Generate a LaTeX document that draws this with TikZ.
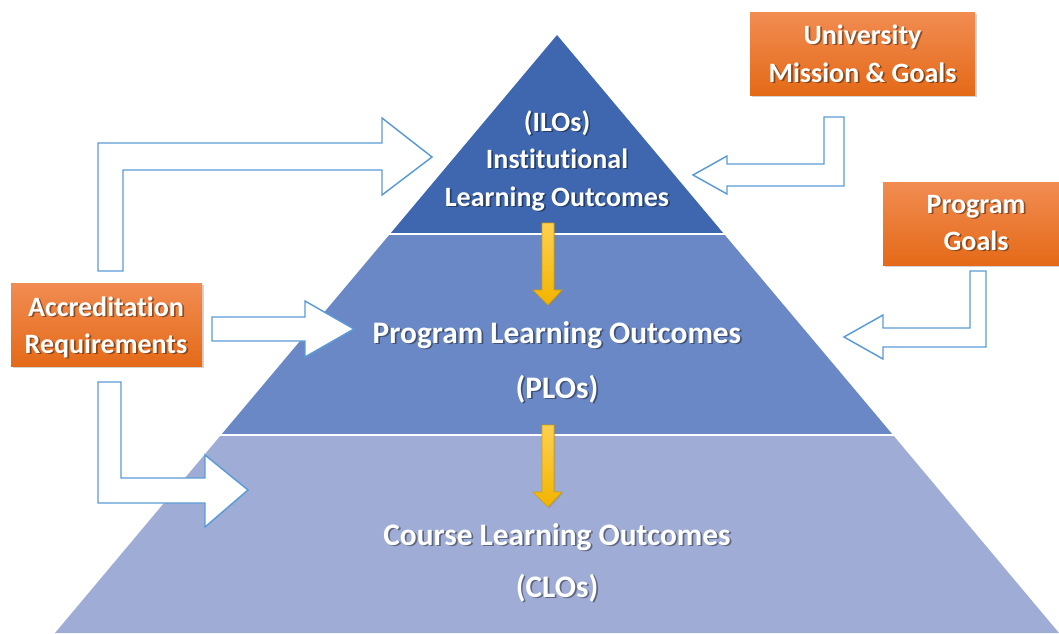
\documentclass[tikz,border=0pt]{standalone}
\usepackage{fontspec}
\setmainfont{Carlito}[Ligatures=NoCommon]
\usetikzlibrary{shadows,calc}
\definecolor{tierA}{RGB}{62,103,176}
\definecolor{tierB}{RGB}{106,136,198}
\definecolor{tierC}{RGB}{159,173,214}
\definecolor{orTop}{RGB}{241,140,82}
\definecolor{orBot}{RGB}{228,106,24}
\definecolor{arrBlue}{RGB}{91,155,213}
\definecolor{ylTop}{RGB}{255,208,80}
\definecolor{ylBot}{RGB}{242,180,0}
\definecolor{ylEdge}{RGB}{212,158,0}
\tikzset{
  sepline/.style={draw=white, line width=1.5pt},
  obox/.style={rectangle, inner sep=0pt, top color=orTop, bottom color=orBot, draw=none,
    drop shadow={shadow xshift=1.5pt, shadow yshift=-1.5pt, opacity=0.35}},
  barrow/.style={draw=arrBlue, fill=white, line width=1.1pt, line join=miter},
  yarrow/.style={top color=ylTop, bottom color=ylBot, draw=ylEdge, line width=0.5pt,
    drop shadow={shadow xshift=1pt, shadow yshift=-1pt, opacity=0.3}},
  lbl/.style={anchor=base, text=white, inner sep=0pt, font=\bfseries\fontsize{21}{25}\selectfont},
  lblL/.style={lbl, font=\bfseries\fontsize{23.5}{28}\selectfont},
}
\newcommand\shlabel[4]{%
  \node[#1, text=black, opacity=0.4] at ([xshift=1.3pt,yshift=-1.3pt]#3) {#4};
  \node[#1] (#2) at (#3) {#4};}
\begin{document}
\begin{tikzpicture}[x=0.75pt, y=-0.75pt]
\useasboundingbox (0,0) rectangle (1059,633);
% pyramid tiers
\fill[tierC] (221,435) -- (893,435) -- (1059,633) -- (55,633) -- cycle;
\fill[tierB] (390,234) -- (724,234) -- (893,435) -- (221,435) -- cycle;
\fill[tierA] (557,35) -- (724,234) -- (390,234) -- cycle;
\draw[sepline] (388,234) -- (726,234);
\draw[sepline] (219,435) -- (895,435);

% yellow arrows
\draw[yarrow] (542,223) -- (554,223) -- (554,290) -- (562,290) -- (548,305) -- (533,290) -- (542,290) -- cycle;
\draw[yarrow] (542,425) -- (554,425) -- (554,492) -- (562,492) -- (548,507) -- (533,492) -- (542,492) -- cycle;

% orange boxes
\node[obox, minimum width=168.75pt, minimum height=62.25pt] (univ) at (862.5,53.5) {};
\node[obox, minimum width=133.5pt, minimum height=62.25pt] (pgoal) at (972,223.5) {};
\node[obox, minimum width=143.25pt, minimum height=62.25pt] (accr) at (106.5,324.5) {};

% blue block arrows
\draw[barrow] (98,271) -- (98,143) -- (382,143) -- (382,118) -- (432,157) -- (382,195) -- (382,170) -- (123,170) -- (123,271) -- cycle;
\draw[barrow] (212,317) -- (305,317) -- (305,301) -- (354,329) -- (305,357) -- (305,341) -- (212,341) -- cycle;
\draw[barrow] (98,382) -- (121,382) -- (121,478) -- (205,478) -- (205,455) -- (248,490) -- (205,527) -- (205,503) -- (98,503) -- cycle;
\draw[barrow] (824,117) -- (844,117) -- (844,186) -- (727,186) -- (727,194) -- (693,175) -- (727,156) -- (727,164) -- (824,164) -- cycle;
\draw[barrow] (970,271) -- (986,271) -- (986,347) -- (883,347) -- (883,359) -- (844,337) -- (883,315) -- (883,328) -- (970,328) -- cycle;

% texts
\shlabel{lbl}{ilo1}{557,131}{(ILOs)}
\shlabel{lbl}{ilo2}{557,168}{Institutional}
\shlabel{lbl}{ilo3}{557,206}{Learning Outcomes}
\shlabel{lblL}{plo1}{557,343}{Program Learning Outcomes}
\shlabel{lblL}{plo2}{557,398}{(PLOs)}
\shlabel{lblL}{clo1}{557,545}{Course Learning Outcomes}
\shlabel{lblL}{clo2}{557,597}{(CLOs)}
\shlabel{lbl}{univ1}{862.5,44}{University}
\shlabel{lbl}{univ2}{862.5,82}{Mission \& Goals}
\shlabel{lbl}{pg1}{976,213}{Program}
\shlabel{lbl}{pg2}{976,250}{Goals}
\shlabel{lbl}{ac1}{106,316}{Accreditation}
\shlabel{lbl}{ac2}{106,353}{Requirements}
\end{tikzpicture}
\end{document}
